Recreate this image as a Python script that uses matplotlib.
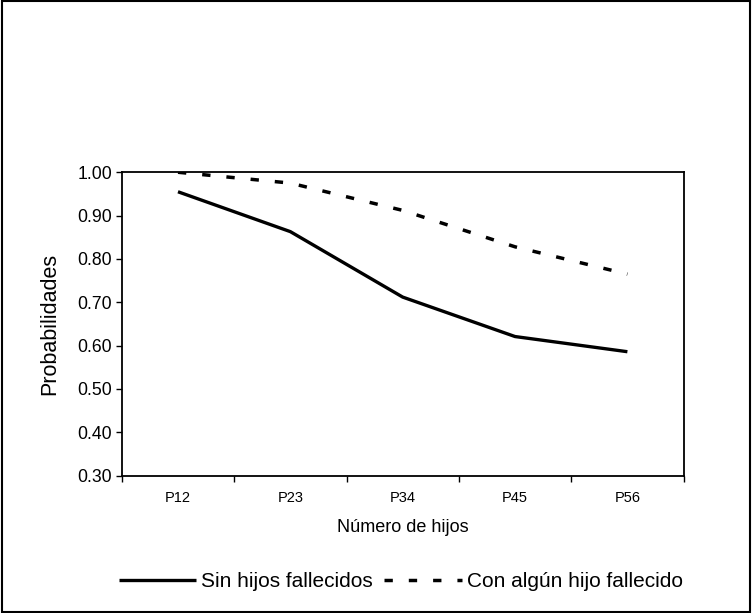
import numpy as np
import matplotlib.pyplot as plt
from matplotlib.patches import Rectangle

plt.rcParams['font.family'] = ['Liberation Sans', 'DejaVu Sans']

categorias = ['P12', 'P23', 'P34', 'P45', 'P56']
sin_fallecidos = [0.955, 0.863, 0.712, 0.621, 0.586]
con_fallecido = [1.00, 0.975, 0.912, 0.828, 0.765]
y_ticks = [0.30, 0.40, 0.50, 0.60, 0.70, 0.80, 0.90, 1.00]

fig = plt.figure(figsize=(7.52, 6.13), dpi=100)
ax = fig.add_axes([0.162, 0.224, 0.747, 0.495])

x = np.arange(len(categorias))
ax.plot(x, sin_fallecidos, color='black', lw=2.4, solid_capstyle='butt',
        label='Sin hijos fallecidos')
ax.plot(x, con_fallecido, color='black', lw=2.5, ls=(0, (2.4, 4.6)),
        dash_capstyle='butt', label='Con algún hijo fallecido')

ax.set_xlim(-0.5, len(categorias) - 0.5)
ax.set_ylim(0.30, 1.00)
ax.set_yticks(y_ticks)
ax.set_yticklabels(['%.2f' % v for v in y_ticks], fontsize=12.7)

# ticks between categories, labels centred on them
ax.set_xticks(np.arange(-0.5, len(categorias), 1.0))
ax.set_xticklabels([])
ax.set_xticks(x, minor=True)
ax.set_xticklabels(categorias, minor=True, fontsize=10.5)
ax.tick_params(axis='x', which='minor', length=0, pad=11)
ax.tick_params(axis='x', which='major', length=4, direction='out', width=1)
ax.tick_params(axis='y', length=4, direction='out', width=1, pad=3)

for s in ax.spines.values():
    s.set_linewidth(1.3)

ax.set_ylabel('Probabilidades', fontsize=15.5, labelpad=12)
ax.set_xlabel('Número de hijos', fontsize=13, labelpad=10)

fig.legend(loc='center', bbox_to_anchor=(0.533, 0.051), ncol=2, frameon=False,
           fontsize=15, handlelength=3.7, handletextpad=0.25, columnspacing=0.55)

fig.add_artist(Rectangle((0.002, 0.002), 0.996, 0.996, transform=fig.transFigure,
                         fill=False, edgecolor='black', lw=1.5))

fig.savefig('out.png', dpi=100)
